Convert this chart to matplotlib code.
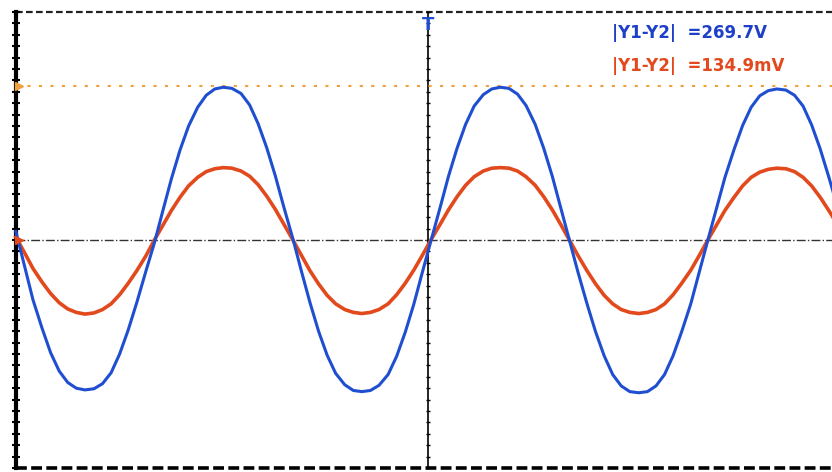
import matplotlib
matplotlib.use("Agg")
import matplotlib.pyplot as plt

# sample times in divisions (0 = trigger / centre line)
t_div = [-7.23, -7.08, -6.93, -6.77, -6.62, -6.47, -6.32, -6.17, -6.02, -5.86,
         -5.71, -5.56, -5.41, -5.26, -5.11, -4.95, -4.80, -4.65, -4.50, -4.35,
         -4.20, -4.04, -3.89, -3.74, -3.59, -3.44, -3.28, -3.13, -2.98, -2.83,
         -2.68, -2.53, -2.37, -2.22, -2.07, -1.92, -1.77, -1.62, -1.46, -1.31,
         -1.16, -1.01, -0.86, -0.70, -0.55, -0.40, -0.25, -0.10, 0.05, 0.21,
         0.36, 0.51, 0.66, 0.81, 0.97, 1.12, 1.27, 1.42, 1.57, 1.72,
         1.88, 2.03, 2.18, 2.33, 2.48, 2.63, 2.79, 2.94, 3.09, 3.24,
         3.39, 3.54, 3.70, 3.85, 4.00, 4.15, 4.30, 4.45, 4.61, 4.76,
         4.91, 5.06, 5.21, 5.37, 5.52, 5.67, 5.82, 5.97, 6.12, 6.28,
         6.43, 6.58, 6.73, 6.88, 7.03, 7.19, 7.34]

# channel 1 (blue) in divisions
ch1 = [0.15, -0.45, -1.05, -1.55, -1.98, -2.30, -2.50, -2.60, -2.63, -2.61,
       -2.52, -2.33, -2.00, -1.58, -1.10, -0.55, -0.05, 0.52, 1.08, 1.58,
       2.00, 2.33, 2.54, 2.65, 2.68, 2.66, 2.57, 2.37, 2.04, 1.62,
       1.13, 0.58, 0.02, -0.55, -1.10, -1.60, -2.02, -2.34, -2.54, -2.64,
       -2.66, -2.64, -2.55, -2.36, -2.04, -1.62, -1.13, -0.57, -0.02, 0.56,
       1.12, 1.61, 2.03, 2.35, 2.55, 2.65, 2.68, 2.66, 2.56, 2.36,
       2.03, 1.61, 1.12, 0.56, 0.00, -0.56, -1.12, -1.61, -2.03, -2.36,
       -2.56, -2.66, -2.68, -2.66, -2.56, -2.36, -2.03, -1.61, -1.12, -0.56,
       0.00, 0.55, 1.10, 1.59, 2.01, 2.33, 2.53, 2.62, 2.65, 2.63,
       2.54, 2.35, 2.02, 1.60, 1.11, 0.56, 0.00]

# channel 2 (red) in divisions
ch2 = [0.05, -0.22, -0.50, -0.74, -0.94, -1.10, -1.21, -1.27, -1.30, -1.28,
       -1.22, -1.12, -0.96, -0.76, -0.54, -0.28, 0.00, 0.26, 0.52, 0.75,
       0.95, 1.10, 1.20, 1.25, 1.27, 1.26, 1.21, 1.12, 0.97, 0.77,
       0.54, 0.28, 0.00, -0.27, -0.54, -0.77, -0.97, -1.12, -1.22, -1.27,
       -1.29, -1.27, -1.22, -1.12, -0.96, -0.76, -0.53, -0.27, 0.00, 0.27,
       0.53, 0.76, 0.96, 1.11, 1.21, 1.26, 1.27, 1.26, 1.21, 1.11,
       0.96, 0.76, 0.53, 0.27, 0.00, -0.27, -0.54, -0.77, -0.97, -1.12,
       -1.22, -1.27, -1.29, -1.27, -1.22, -1.12, -0.96, -0.76, -0.53, -0.27,
       0.00, 0.26, 0.52, 0.75, 0.95, 1.10, 1.19, 1.24, 1.26, 1.25,
       1.20, 1.10, 0.95, 0.75, 0.52, 0.26, 0.00]

cursor_y = 2.70
readouts = ["|Y1-Y2|  =269.7V", "|Y1-Y2|  =134.9mV"]
blue = "#1f4fd0"
red = "#e2491c"

fig = plt.figure(figsize=(8.32, 4.72), dpi=100)
ax = fig.add_axes([0, 0, 1, 1])
ax.set_xlim(-428 / 57, 404 / 57)
ax.set_ylim(-232 / 57, 240 / 57)
ax.axis("off")

left = -7.23
right = 7.1

# graticule
ax.plot([left, left], [-4.0, 4.0], color="black", lw=3)
ax.hlines(4.0, left, right, color="#222222", lw=1.6, linestyles=(0, (3, 1.5)))
ax.hlines(-4.0, left, right, color="black", lw=2.6, linestyles=(0, (3, 1.2)))
ax.hlines(0, left, right, color="#333333", lw=1, linestyles="-.")
ax.vlines(0, -4.0, 4.0, color="black", lw=1.2)
minor = [i * 0.2 for i in range(-20, 21)]
ax.plot([0] * len(minor), minor, ls="none", marker="_", ms=3, color="black", mew=1)
ax.plot([left] * len(minor), minor, ls="none", marker="_", ms=6, color="black", mew=1.5)

# cursor
ax.hlines(cursor_y, left, right, color="#f0a040", lw=1.5, linestyles=(0, (1.5, 4)))
ax.plot(left + 0.05, cursor_y, marker=">", ms=6, color="#f0a040")

# traces
ax.plot(t_div, ch2, color=red, lw=2.6, solid_joinstyle="round")
ax.plot(t_div, ch1, color=blue, lw=2.2, solid_joinstyle="round")
ax.plot(left + 0.05, 0, marker=">", ms=6, color=red)

# trigger marker
ax.text(0, 3.78, "T", color=blue, fontsize=13, fontweight="bold",
        ha="center", va="center")

fig.text(612 / 832, 1 - 33 / 472, readouts[0], color="#1e3fc8", fontsize=12,
         fontweight="bold", va="center")
fig.text(612 / 832, 1 - 66 / 472, readouts[1], color="#e2491c", fontsize=12,
         fontweight="bold", va="center")

fig.savefig("out.png", dpi=100, facecolor="white")
